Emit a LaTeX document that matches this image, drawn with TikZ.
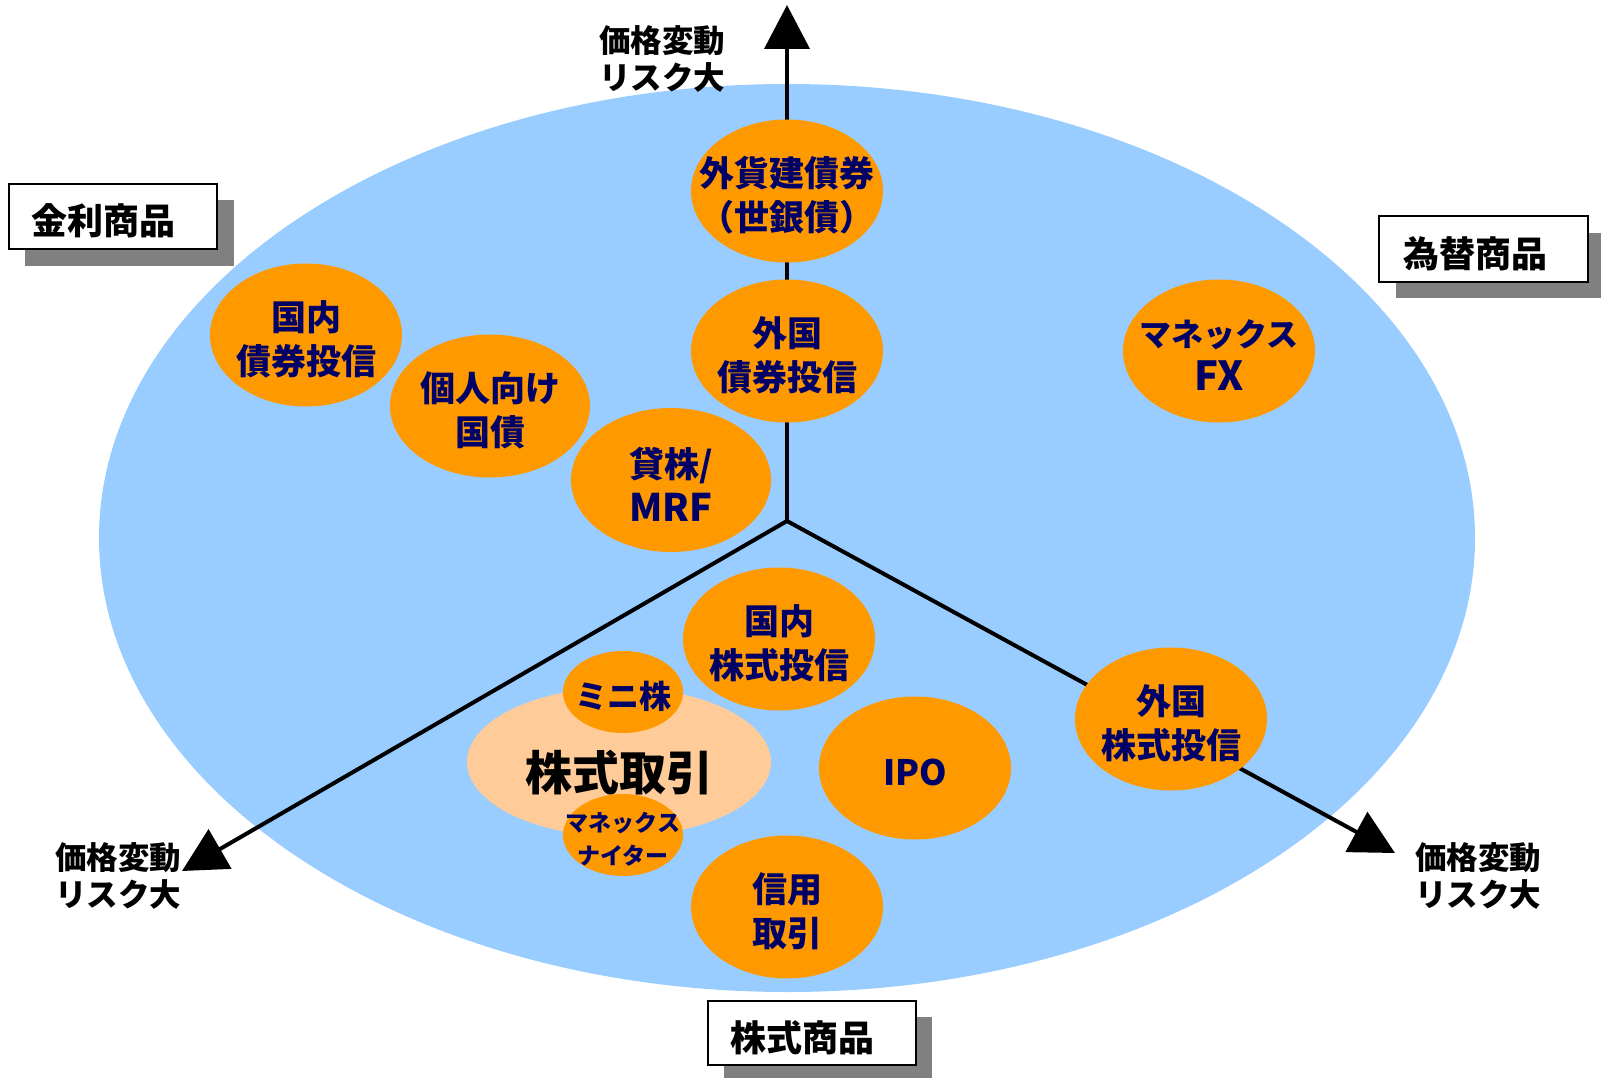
\documentclass[tikz,border=0pt]{standalone}
\usepackage{fontspec}
\setmainfont{Noto Sans CJK JP}
\newfontfamily\jp{Noto Sans CJK JP}
\usetikzlibrary{arrows.meta,shapes.geometric}
\definecolor{skyb}{RGB}{153,204,255}
\definecolor{orng}{RGB}{255,153,0}
\definecolor{peach}{RGB}{255,204,153}
\definecolor{navyt}{RGB}{0,0,102}
\definecolor{shad}{RGB}{128,128,128}
\tikzset{
  axisline/.style={line width=4pt,-{Triangle[length=44pt,width=45pt]}},
  oval/.style={ellipse,fill=orng,draw=none,inner sep=0pt,minimum width=192pt,minimum height=143pt},
  ovtxt/.style={text=navyt,font=\jp\bfseries\fontsize{35}{44}\selectfont,align=center,inner sep=0pt,yshift=-4pt},
  risk/.style={anchor=north west,align=left,inner sep=0pt,font=\jp\bfseries\fontsize{31.5}{37}\selectfont},
  catbox/.style={draw=black,line width=1.5pt,fill=white},
  cattxt/.style={font=\jp\bfseries\fontsize{36}{40}\selectfont,inner sep=0pt},
}
\begin{document}
\begin{tikzpicture}[x=1pt,y=-1pt]
\useasboundingbox (0,0) rectangle (1601,1078);
% big ellipse
\fill[skyb] (787,538) ellipse [x radius=688pt, y radius=454pt];
% axes
\coordinate (o) at (787,521);
\coordinate (up) at (787,5);
\coordinate (dl) at (182,871);
\coordinate (dr) at (1395,853);
\draw[axisline] (o) -- (up);
\draw[axisline] (o) -- (dl);
\draw[axisline] (o) -- (dr);
% ovals
\node[oval] (gaika) at (787,191) {};
\node[oval] (gaikokusai) at (787,351) {};
\node[oval] (kokunaisai) at (306,335) {};
\node[oval,minimum width=200pt] (kojin) at (490,406) {};
\node[oval,minimum width=200pt,minimum height=144pt] (kashi) at (671,480) {};
\node[oval] (fx) at (1219,351) {};
\node[oval] (kokunaikab) at (779,639) {};
\node[oval] (gaikokukab) at (1171,719) {};
\node[oval] (ipo) at (915,768) {};
\node[oval] (shinyo) at (787,907) {};
\node[oval,fill=peach,minimum width=304pt,minimum height=149pt] (kabu) at (619,762) {};
\node[oval,minimum width=120pt,minimum height=82pt] (mini) at (623,692) {};
\node[oval,minimum width=120pt,minimum height=82pt] (nighter) at (623,835) {};
% oval texts
\node[ovtxt] at (gaika) {外貨建債券\\（世銀債）};
\node[ovtxt] at (gaikokusai) {外国\\債券投信};
\node[ovtxt] at (kokunaisai) {国内\\債券投信};
\node[ovtxt] at (kojin) {個人向け\\国債};
\node[ovtxt] at (kashi) {貸株/\\{\fontsize{38}{44}\selectfont MRF}};
\node[ovtxt,font=\jp\bfseries\fontsize{32}{44}\selectfont] at (fx) {マネックス\\{\fontsize{40}{44}\selectfont FX}};
\node[ovtxt] at (kokunaikab) {国内\\株式投信};
\node[ovtxt] at (gaikokukab) {外国\\株式投信};
\node[ovtxt] at (ipo) {IPO};
\node[ovtxt] at (shinyo) {信用\\取引};
\node[ovtxt,text=black,font=\jp\bfseries\fontsize{47}{50}\selectfont] at (619,769) {株式取引};
\node[ovtxt,font=\jp\bfseries\fontsize{32}{36}\selectfont] at (mini) {ミニ株};
\node[ovtxt,font=\jp\bfseries\fontsize{23}{33}\selectfont] at (nighter) {マネックス\\ナイター};
% risk labels
\node[risk] (rtop) at (599,25) {価格変動\\リスク大};
\node[risk] (rleft) at (55,842) {価格変動\\リスク大};
\node[risk] (rright) at (1415,842) {価格変動\\リスク大};
% category boxes
\fill[shad] (25,200) rectangle (234,266);
\draw[catbox] (9,184) rectangle (217,249);
\node[cattxt] (kinri) at (103,221) {金利商品};
\fill[shad] (1396,233) rectangle (1601,298);
\draw[catbox] (1379,216) rectangle (1588,282);
\node[cattxt] (kawase) at (1475,254) {為替商品};
\fill[shad] (724,1017) rectangle (932,1078);
\draw[catbox] (708,1001) rectangle (916,1065);
\node[cattxt] (kabushiki) at (802,1038) {株式商品};
\end{tikzpicture}
\end{document}
